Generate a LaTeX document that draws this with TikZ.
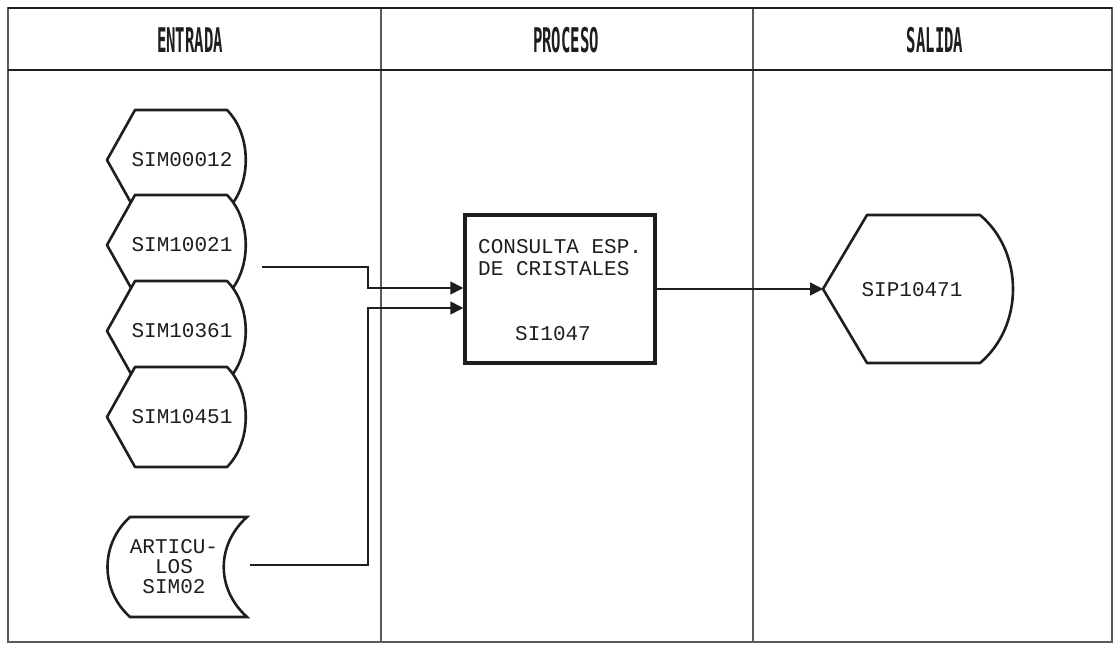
\documentclass[tikz,border=0pt]{standalone}
\usepackage{fontspec}
\setmonofont{Liberation Mono}
\newfontfamily\hdrfont[FakeStretch=0.46]{DejaVu Sans Mono}
\usepackage{xcolor}
\definecolor{cInk}{HTML}{1E1E1E}
\definecolor{cRule}{HTML}{5A5A5A}
\usetikzlibrary{arrows.meta,calc}
\tikzset{
  frame-line/.style={draw=cRule,line width=1.2pt},
  frame-head/.style={draw=cInk,line width=2pt},
  col-title/.style={font=\hdrfont\bfseries\fontsize{34}{34}\selectfont,text=cInk},
  node-text/.style={font=\ttfamily\fontsize{21}{20}\selectfont,text=cInk,inner sep=0pt},
  shape-line/.style={draw=cInk,line width=2.6pt,fill=white,line join=round},
  node-proc/.style={draw=cInk,line width=3.5pt,minimum width=190pt,
    minimum height=148pt,inner sep=0pt},
  arrow/.style={-{Triangle[length=13pt,width=13pt]},draw=cInk,line width=1.6pt},
}

\begin{document}
\begin{tikzpicture}[x=1pt,y=-1pt]
  \useasboundingbox (0,0) rectangle (1116,647);
  % marco y columnas
  \draw[frame-line] (8,8) rectangle (1112,642);
  \draw[frame-line] (381,8) -- (381,642) (753,8) -- (753,642);
  \draw[frame-head] (8,8) -- (1112,8) (8,70) -- (1112,70);
  \node[col-title] (t-in) at (190,40) {ENTRADA};
  \node[col-title] (t-proc) at (566,40) {PROCESO};
  \node[col-title] (t-out) at (935,40) {SALIDA};
  % archivos de entrada
  \foreach \nm/\yy/\lbl in {f1/160/SIM00012,f2/245/SIM10021,f3/331/SIM10361,f4/417/SIM10451}{
    \path[shape-line] (107,\yy) -- (135,\yy-50) -- (227,\yy-50)
      .. controls (252,\yy-25) and (252,\yy+25) .. (227,\yy+50)
      -- (135,\yy+50) -- cycle;
    \node[node-text] (\nm) at (182,\yy) {\lbl};
  }
  \path[shape-line,line join=miter] (130,517) -- (247,517)
    .. controls (216,545) and (216,589) .. (247,617) -- (130,617)
    .. controls (100,590) and (100,544) .. (130,517) -- cycle;
  \node[node-text,align=center] (art) at (174,567) {ARTICU-\\LOS\\SIM02};
  % proceso
  \node[node-proc] (proc) at (560,289) {};
  \node[node-text,anchor=base west] (proc-t1) at (478,253) {CONSULTA ESP.};
  \node[node-text,anchor=base west] (proc-t2) at (478,275) {DE CRISTALES};
  \node[node-text,anchor=base] (proc-id) at (553,340) {SI1047};
  % salida
  \path[shape-line] (823,289) -- (867,215) -- (980,215)
    .. controls (1024,252) and (1024,326) .. (980,363)
    -- (867,363) -- cycle;
  \node[node-text] (out) at (912,290) {SIP10471};
  \coordinate (out-tip) at (823,289);
  % conectores
  \draw[arrow] ($(f2)+(80,22)$) -- ++(106,0) |- ($(proc.west)+(0,-1)$);
  \draw[arrow] ($(art)+(76,-2)$) -- ++(118,0) |- ($(proc.west)+(0,19)$);
  \draw[arrow] (proc.east) -- (out-tip);
\end{tikzpicture}
\end{document}
